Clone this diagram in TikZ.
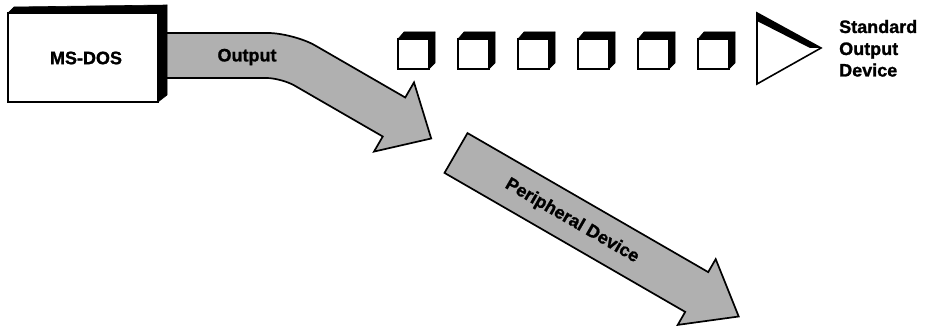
\documentclass[tikz,border=0pt]{standalone}
\usepackage{fontspec}
\setmainfont{Liberation Sans}
\newfontfamily\heavyfont[FakeBold=1.2]{Liberation Sans Bold}
\definecolor{shade}{RGB}{176,176,176}
\tikzset{
  blockarrow/.style={fill=shade, draw=black, line width=1.7pt, line join=miter},
  txt/.style={font=\heavyfont\fontsize{18}{21.5}\selectfont, inner sep=0pt},
  face/.style={fill=white, draw=black, line width=1.9pt},
  dark/.style={fill=black, draw=black, line width=0.6pt, line join=round},
}
\begin{document}
\begin{tikzpicture}[x=1pt,y=-1pt]
\useasboundingbox (0,0) rectangle (925,328);
% Output arrow
\draw[blockarrow] (158,33) -- (268,33) .. controls (281.8,33) and (303.3,38.6) .. (315.2,45.5)
  -- (405.25,97.5) -- (414,82.4) -- (431.2,138.5) -- (374,151.6) -- (382.75,136.5)
  -- (294.4,85.5) .. controls (287.25,81.4) and (274.65,78) .. (266.4,78) -- (158,78) -- cycle;
\node[txt] (outlbl) at (247,57) {Output};
% MS-DOS box
\draw[dark] (8,13) -- (14,7) -- (167,5) -- (158,13) -- cycle;
\draw[dark] (158,13) -- (167,5) -- (167,95) -- (158,102) -- cycle;
\node[face, minimum width=150pt, minimum height=89pt, inner sep=0pt] (box) at (83,57.5) {};
\node[txt] (msdos) at (86,58) {MS-DOS};
% cubes
\foreach \x in {398,458,518,578,638,698}{
  \draw[dark] (\x,39) -- (\x+6,32) -- (\x+37,32) -- (\x+31,39) -- cycle;
  \draw[dark] (\x+31,39) -- (\x+37,32) -- (\x+37,63) -- (\x+31,69) -- cycle;
  \draw[face] (\x,39) rectangle (\x+31,69);
}
% triangle
\fill[black] (757,13) -- (821,48) -- (810,48) -- (757,21) -- cycle;
\draw[line width=1.6pt, line join=miter] (757,13) -- (821,48) -- (757,84) -- cycle;
\node[txt, anchor=base west] (std1) at (839,33) {Standard};
\node[txt, anchor=base west] (std2) at (839,55) {Output};
\node[txt, anchor=base west] (std3) at (839,76.5) {Device};
% Peripheral Device arrow
\draw[blockarrow] (467.5,133.1) -- (708.2,272.1) -- (715.7,259.1) -- (738.7,316.5)
  -- (677.7,324.9) -- (685.2,311.9) -- (444.5,172.9) -- cycle;
\node[txt, rotate=-30] (periph) at (572,221) {Peripheral Device};
\end{tikzpicture}
\end{document}
